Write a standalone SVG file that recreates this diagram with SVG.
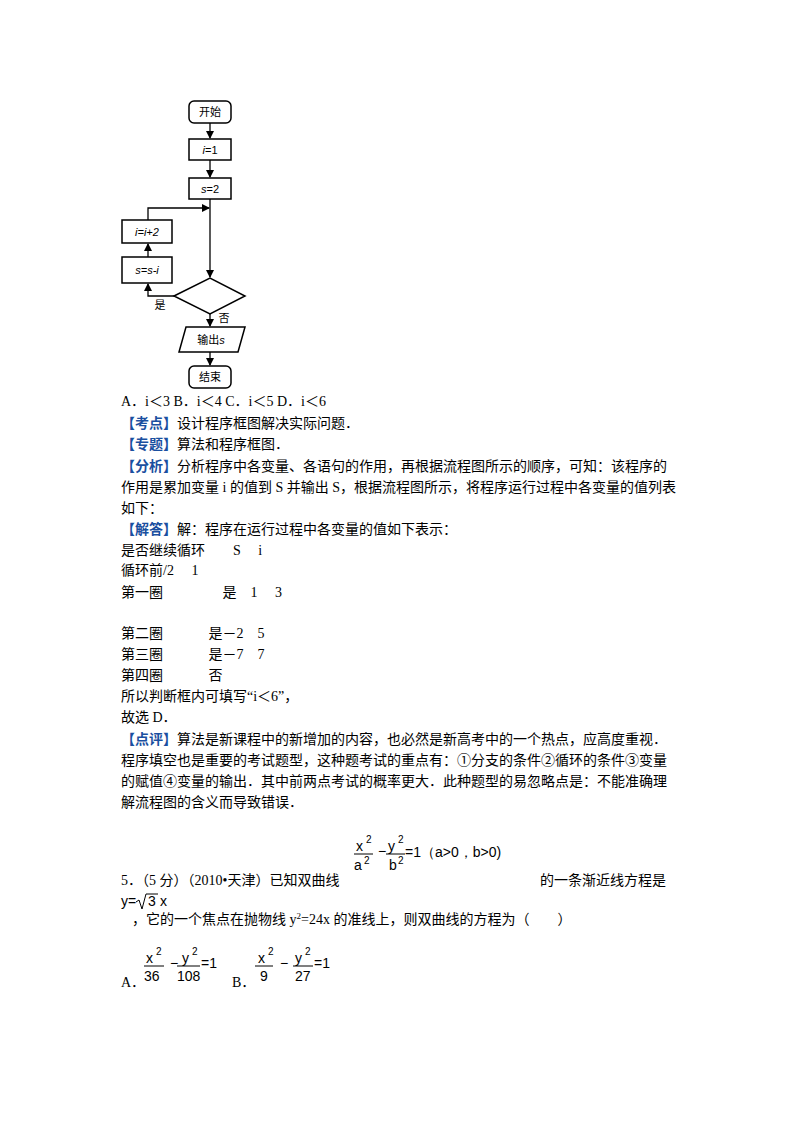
<svg xmlns="http://www.w3.org/2000/svg" width="800" height="1132" viewBox="0 0 800 1132">
<style>
.b{fill:#fff;stroke:#000;stroke-width:1.5}
.l{stroke:#000;stroke-width:1.3;fill:none}
.t{font-family:"Liberation Serif","Noto Sans CJK SC",serif;font-size:14px;fill:#000}
.f{font-family:"Liberation Sans","Noto Sans CJK SC",sans-serif;font-size:11px;fill:#000;text-anchor:middle}
.m{font-family:"Liberation Sans",sans-serif;font-size:14px;fill:#000}
.h{fill:#1a4fa0;font-weight:bold}
</style>
<defs><marker id="a" markerWidth="8" markerHeight="8" refX="7" refY="4" orient="auto" markerUnits="userSpaceOnUse"><path d="M0,0L8,4L0,8z" fill="#000"/></marker></defs>
<rect width="800" height="1132" fill="#fff"/>
<g id="connectors" class="l">
<line x1="210" y1="123" x2="210" y2="138" marker-end="url(#a)"/>
<line x1="210" y1="160" x2="210" y2="177" marker-end="url(#a)"/>
<line x1="210" y1="199" x2="210" y2="277" marker-end="url(#a)"/>
<polyline points="174,296 148,296 148,284" marker-end="url(#a)"/>
<line x1="148" y1="257" x2="148" y2="244" marker-end="url(#a)"/>
<polyline points="148,220 148,208 209,208" marker-end="url(#a)"/>
<line x1="210" y1="314" x2="210" y2="326" marker-end="url(#a)"/>
<line x1="210" y1="352" x2="210" y2="365" marker-end="url(#a)"/>
</g>
<g id="start"><rect class="b" x="189" y="101" width="42" height="22" rx="5"/><text class="f" x="210" y="116">开始</text></g>
<g id="i1"><rect class="b" x="189" y="139" width="42" height="21"/><text class="f" x="210" y="154"><tspan font-style="italic">i</tspan>=1</text></g>
<g id="s2"><rect class="b" x="189" y="178" width="42" height="21"/><text class="f" x="210" y="193"><tspan font-style="italic">s</tspan>=2</text></g>
<g id="iinc"><rect class="b" x="122" y="220" width="50" height="23"/><text class="f" x="147" y="236" font-style="italic">i=i+2</text></g>
<g id="ssub"><rect class="b" x="122" y="257" width="50" height="26"/><text class="f" x="147" y="274" font-style="italic">s=s-i</text></g>
<g id="cond"><polygon class="b" points="174,296 210,278 245,296 210,314"/></g>
<text class="f" x="160" y="309">是</text><text class="f" x="224" y="322">否</text>
<g id="out"><polygon class="b" points="186,327 245,327 238,352 179,352"/><text class="f" x="211" y="344">输出<tspan font-style="italic">s</tspan></text></g>
<g id="end"><rect class="b" x="189" y="366" width="42" height="22" rx="5"/><text class="f" x="210" y="381">结束</text></g>
<g class="t">
<text x="121" y="406">A．i＜3 B．i＜4 C．i＜5 D．i＜6</text>
<text x="121" y="428"><tspan class="h">【考点】</tspan>设计程序框图解决实际问题．</text>
<text x="121" y="449"><tspan class="h">【专题】</tspan>算法和程序框图．</text>
<text x="121" y="471"><tspan class="h">【分析】</tspan>分析程序中各变量、各语句的作用，再根据流程图所示的顺序，可知：该程序的</text>
<text x="121" y="492">作用是累加变量 i 的值到 S 并输出 S，根据流程图所示，将程序运行过程中各变量的值列表</text>
<text x="121" y="513">如下：</text>
<text x="121" y="534"><tspan class="h">【解答】</tspan>解：程序在运行过程中各变量的值如下表示：</text>
<text x="121" y="555">是否继续循环　　S　 i</text>
<text x="121" y="575">循环前/2　  1</text>
<text x="121" y="597">第一圈　　　　 是　1　 3</text>
<text x="121" y="638">第二圈　　　 是－2　5</text>
<text x="121" y="659">第三圈　　　 是－7　7</text>
<text x="121" y="680">第四圈　　　 否</text>
<text x="121" y="701">所以判断框内可填写“i＜6”，</text>
<text x="121" y="722">故选 D．</text>
<text x="121" y="744"><tspan class="h">【点评】</tspan>算法是新课程中的新增加的内容，也必然是新高考中的一个热点，应高度重视．</text>
<text x="121" y="765">程序填空也是重要的考试题型，这种题考试的重点有：①分支的条件②循环的条件③变量</text>
<text x="121" y="786">的赋值④变量的输出．其中前两点考试的概率更大．此种题型的易忽略点是：不能准确理</text>
<text x="121" y="807">解流程图的含义而导致错误．</text>
<text x="121" y="885">5．（5 分）（2010•天津）已知双曲线</text>
<text x="540" y="885">的一条渐近线方程是</text>
<text x="132" y="924">，它的一个焦点在抛物线 y<tspan font-size="9" dy="-5">2</tspan><tspan dy="5">=24x 的准线上，则双曲线的方程为（　　）</tspan></text>
<text x="121" y="987">A．</text><text x="232" y="987">B．</text>
</g>
<g class="m" font-size="13">
<text x="356" y="851">x</text><text x="366" y="843" font-size="10">2</text>
<line x1="354" y1="854" x2="373" y2="854" stroke="#000"/>
<text x="354" y="870">a</text><text x="364" y="864" font-size="10">2</text>
<text x="378" y="856">−</text>
<text x="388" y="851">y</text><text x="398" y="843" font-size="10">2</text>
<line x1="386" y1="854" x2="405" y2="854" stroke="#000"/>
<text x="389" y="870">b</text><text x="398" y="864" font-size="10">2</text>
<text x="405" y="857">=1（a&gt;0，b&gt;0)</text>
<text x="121" y="906">y=</text>
<path d="M136,902 L139,900 L142,909 L146,894 L158,894" fill="none" stroke="#000" stroke-width="1"/>
<text x="148" y="906">3</text><text x="160" y="906">x</text>
<text x="146" y="963">x</text><text x="156" y="955" font-size="10">2</text>
<line x1="144" y1="966" x2="164" y2="966" stroke="#000"/>
<text x="144" y="981">36</text>
<text x="170" y="968">−</text>
<text x="182" y="963">y</text><text x="192" y="955" font-size="10">2</text>
<line x1="177" y1="966" x2="200" y2="966" stroke="#000"/>
<text x="177" y="981">108</text>
<text x="201" y="968">=1</text>
<text x="258" y="963">x</text><text x="268" y="955" font-size="10">2</text>
<line x1="255" y1="966" x2="273" y2="966" stroke="#000"/>
<text x="260" y="981">9</text>
<text x="280" y="968">−</text>
<text x="295" y="963">y</text><text x="305" y="955" font-size="10">2</text>
<line x1="293" y1="966" x2="313" y2="966" stroke="#000"/>
<text x="295" y="981">27</text>
<text x="314" y="968">=1</text>
</g>
</svg>
